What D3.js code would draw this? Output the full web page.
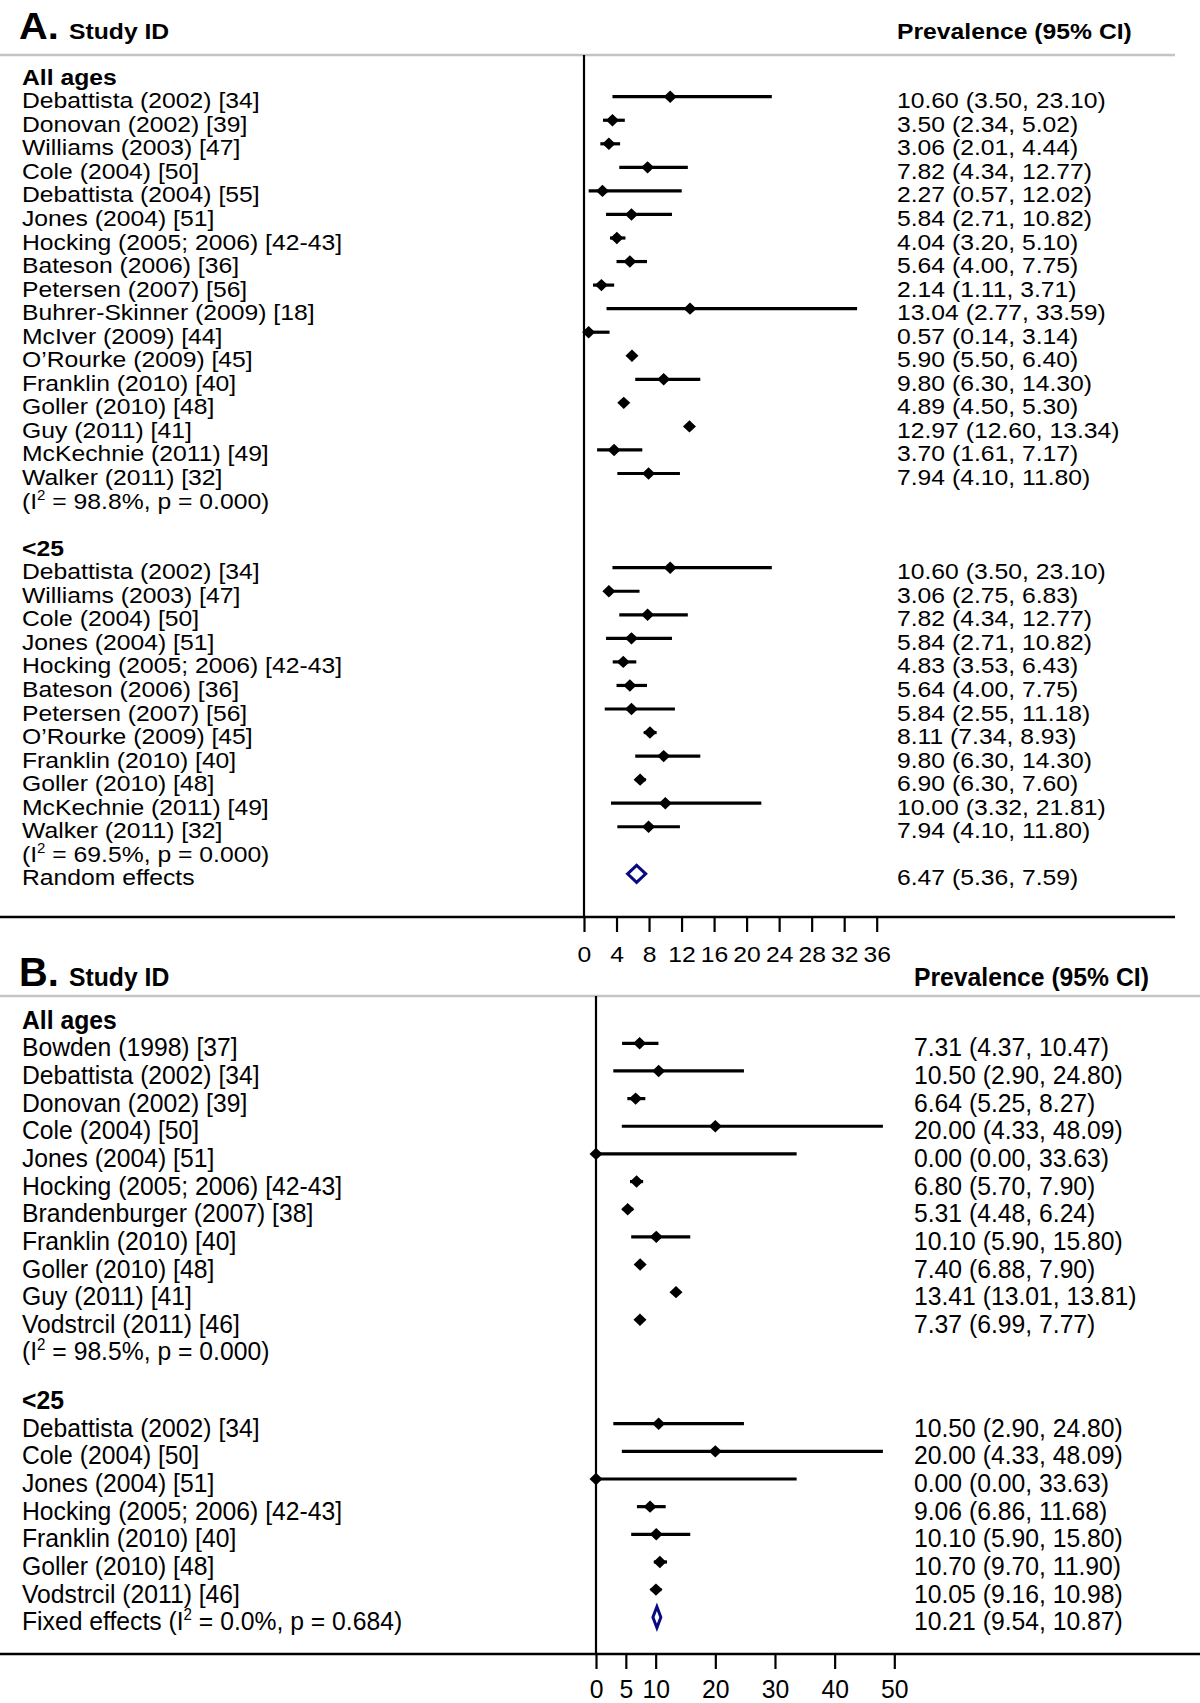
<!DOCTYPE html>
<html>
<head>
<meta charset="utf-8">
<script src="https://cdnjs.cloudflare.com/ajax/libs/d3/7.8.5/d3.min.js"></script>
<style>
  body { margin: 0; background: #fff; }
  svg text { font-family: "Liberation Sans", Arial, Helvetica, sans-serif; fill: #000; }
</style>
</head>
<body>
<svg id="chart"></svg>
<script>
// ---- panel A, all ages ----
var aAllStudies = ["Debattista (2002) [34]", "Donovan (2002) [39]", "Williams (2003) [47]", "Cole (2004) [50]",
  "Debattista (2004) [55]", "Jones (2004) [51]", "Hocking (2005; 2006) [42-43]", "Bateson (2006) [36]",
  "Petersen (2007) [56]", "Buhrer-Skinner (2009) [18]", "McIver (2009) [44]", "O\u2019Rourke (2009) [45]",
  "Franklin (2010) [40]", "Goller (2010) [48]", "Guy (2011) [41]", "McKechnie (2011) [49]", "Walker (2011) [32]"];
var aAllEst = [10.60, 3.50, 3.06, 7.82, 2.27, 5.84, 4.04, 5.64, 2.14, 13.04, 0.57, 5.90, 9.80, 4.89, 12.97, 3.70, 7.94];
var aAllLo  = [3.50, 2.34, 2.01, 4.34, 0.57, 2.71, 3.20, 4.00, 1.11, 2.77, 0.14, 5.50, 6.30, 4.50, 12.60, 1.61, 4.10];
var aAllHi  = [23.10, 5.02, 4.44, 12.77, 12.02, 10.82, 5.10, 7.75, 3.71, 33.59, 3.14, 6.40, 14.30, 5.30, 13.34, 7.17, 11.80];
var aAllHet = "(I\u00b2 = 98.8%, p = 0.000)";

// ---- panel A, under 25 ----
var aYoungStudies = ["Debattista (2002) [34]", "Williams (2003) [47]", "Cole (2004) [50]", "Jones (2004) [51]",
  "Hocking (2005; 2006) [42-43]", "Bateson (2006) [36]", "Petersen (2007) [56]", "O\u2019Rourke (2009) [45]",
  "Franklin (2010) [40]", "Goller (2010) [48]", "McKechnie (2011) [49]", "Walker (2011) [32]"];
var aYoungEst = [10.60, 3.06, 7.82, 5.84, 4.83, 5.64, 5.84, 8.11, 9.80, 6.90, 10.00, 7.94];
var aYoungLo  = [3.50, 2.75, 4.34, 2.71, 3.53, 4.00, 2.55, 7.34, 6.30, 6.30, 3.32, 4.10];
var aYoungHi  = [23.10, 6.83, 12.77, 10.82, 6.43, 7.75, 11.18, 8.93, 14.30, 7.60, 21.81, 11.80];
var aYoungHet = "(I\u00b2 = 69.5%, p = 0.000)";
var aPooled = ["Random effects", 6.47, 5.36, 7.59];
var aTicks = [0, 4, 8, 12, 16, 20, 24, 28, 32, 36];

// ---- panel B, all ages ----
var bAllStudies = ["Bowden (1998) [37]", "Debattista (2002) [34]", "Donovan (2002) [39]", "Cole (2004) [50]",
  "Jones (2004) [51]", "Hocking (2005; 2006) [42-43]", "Brandenburger (2007) [38]", "Franklin (2010) [40]",
  "Goller (2010) [48]", "Guy (2011) [41]", "Vodstrcil (2011) [46]"];
var bAllEst = [7.31, 10.50, 6.64, 20.00, 0.00, 6.80, 5.31, 10.10, 7.40, 13.41, 7.37];
var bAllLo  = [4.37, 2.90, 5.25, 4.33, 0.00, 5.70, 4.48, 5.90, 6.88, 13.01, 6.99];
var bAllHi  = [10.47, 24.80, 8.27, 48.09, 33.63, 7.90, 6.24, 15.80, 7.90, 13.81, 7.77];
var bAllHet = "(I\u00b2 = 98.5%, p = 0.000)";

// ---- panel B, under 25 ----
var bYoungStudies = ["Debattista (2002) [34]", "Cole (2004) [50]", "Jones (2004) [51]", "Hocking (2005; 2006) [42-43]",
  "Franklin (2010) [40]", "Goller (2010) [48]", "Vodstrcil (2011) [46]"];
var bYoungEst = [10.50, 20.00, 0.00, 9.06, 10.10, 10.70, 10.05];
var bYoungLo  = [2.90, 4.33, 0.00, 6.86, 5.90, 9.70, 9.16];
var bYoungHi  = [24.80, 48.09, 33.63, 11.68, 15.80, 11.90, 10.98];
var bPooled = ["Fixed effects (I\u00b2 = 0.0%, p = 0.684)", 10.21, 9.54, 10.87];
var bTicks = [0, 5, 10, 20, 30, 40, 50];

var W = 1200, H = 1703;
var svg = d3.select("#chart").attr("width", W).attr("height", H);

var FS = 23, SX = 1.075;   // text is drawn a bit wide, like the original

// write a text, stretched; a "²" is drawn as a raised small 2
function write(g, x, y, str, sy, opts) {
  opts = opts || {};
  var t = g.append("text")
    .attr("transform", "translate(" + x + "," + y + ") scale(" + SX + "," + sy + ")")
    .attr("font-size", opts.size || FS)
    .attr("font-weight", opts.bold ? "bold" : "normal");
  var parts = str.split("\u00b2");
  t.append("tspan").text(parts[0]);
  if (parts.length > 1) {
    t.append("tspan").attr("font-size", 14).attr("dy", -9).text("2");
    t.append("tspan").attr("dy", 9).text(parts[1]);
  }
  return t;
}

function fmt(v) { return v.toFixed(2); }

function drawPanel(p) {
  var g = svg.append("g");
  var x = d3.scaleLinear().domain(p.domain).range(p.range);
  var row1 = d3.scaleLinear().domain([0, 1]).range([p.start1, p.start1 + p.step]);
  var row2 = d3.scaleLinear().domain([0, 1]).range([p.start2, p.start2 + p.step]);

  // header
  write(g, 19, p.headY, p.letter, p.sy, {bold: true, size: 37});
  write(g, 69, p.headY, "Study ID", p.sy, {bold: true});
  write(g, p.valueX, p.headY, "Prevalence (95% CI)", p.sy, {bold: true});
  g.append("line").attr("x1", 0).attr("x2", p.lineEnd).attr("y1", p.grayY).attr("y2", p.grayY)
    .attr("stroke", "#c4c4c4").attr("stroke-width", 2.5);

  // zero line
  g.append("line").attr("x1", x(0)).attr("x2", x(0)).attr("y1", p.grayY).attr("y2", p.axisY)
    .attr("stroke", "#000").attr("stroke-width", 2.2);

  function studies(names, est, lo, hi, row) {
    names.forEach(function(n, i) {
      var y = row(i), cx = x(est[i]);
      write(g, 22, y + p.off, n, p.sy);
      g.append("line").attr("x1", x(lo[i])).attr("x2", x(hi[i])).attr("y1", y).attr("y2", y)
        .attr("stroke", "#000").attr("stroke-width", 3.2);
      g.append("path")
        .attr("d", d3.line()([[cx - 6.5, y], [cx, y - 6.2], [cx + 6.5, y], [cx, y + 6.2]]) + "Z")
        .attr("fill", "#000");
      write(g, p.valueX, y + p.off, fmt(est[i]) + " (" + fmt(lo[i]) + ", " + fmt(hi[i]) + ")", p.sy);
    });
  }

  write(g, 22, row1(-1) + p.off, "All ages", p.sy, {bold: true});
  studies(p.s1[0], p.s1[1], p.s1[2], p.s1[3], row1);
  write(g, 22, row1(p.s1[0].length) + p.off, p.het1, p.sy);

  write(g, 22, row2(-1) + p.off, "<25", p.sy, {bold: true});
  studies(p.s2[0], p.s2[1], p.s2[2], p.s2[3], row2);
  var k = p.s2[0].length;
  if (p.het2) { write(g, 22, row2(k) + p.off, p.het2, p.sy); k++; }

  // pooled estimate, open diamond
  var py = row2(k), pc = x(p.pooled[1]);
  write(g, 22, py + p.off, p.pooled[0], p.sy);
  g.append("path")
    .attr("d", d3.line()([[x(p.pooled[2]), py], [pc, py - p.dh], [x(p.pooled[3]), py], [pc, py + p.dh]]) + "Z")
    .attr("fill", "#fff").attr("stroke", "#0a0a80").attr("stroke-width", 3);
  write(g, p.valueX, py + p.off, fmt(p.pooled[1]) + " (" + fmt(p.pooled[2]) + ", " + fmt(p.pooled[3]) + ")", p.sy);

  // x axis
  g.append("line").attr("x1", 0).attr("x2", p.lineEnd).attr("y1", p.axisY).attr("y2", p.axisY)
    .attr("stroke", "#000").attr("stroke-width", 2.5);
  var ax = g.append("g").attr("transform", "translate(0," + p.axisY + ")")
    .call(d3.axisBottom(x).tickValues(p.ticks).tickSize(15).tickFormat(d3.format("d")));
  ax.select(".domain").remove();
  ax.selectAll(".tick line").attr("stroke", "#000").attr("stroke-width", 2.2);
  ax.selectAll(".tick text")
    .attr("y", null).attr("dy", null)
    .attr("fill", "#000")
    .attr("font-size", FS)
    .attr("font-family", "Liberation Sans, Arial, sans-serif")
    .attr("transform", "translate(0," + p.tickY + ") scale(" + SX + "," + p.sy + ")");
}

drawPanel({
  letter: "A.", headY: 39, grayY: 55, axisY: 917, lineEnd: 1175, valueX: 897,
  domain: [0, 36], range: [584, 876.7],
  start1: 96.7, start2: 567.7, step: 23.55, off: 11.5, sy: 1, dh: 8.5, tickY: 45,
  s1: [aAllStudies, aAllEst, aAllLo, aAllHi], het1: aAllHet,
  s2: [aYoungStudies, aYoungEst, aYoungLo, aYoungHi], het2: aYoungHet,
  pooled: aPooled, ticks: aTicks
});

drawPanel({
  letter: "B.", headY: 986, grayY: 996, axisY: 1654, lineEnd: 1200, valueX: 914,
  domain: [0, 50], range: [596, 894.3],
  start1: 1043.3, start2: 1423.7, step: 27.65, off: 13, sy: 1.12, dh: 10.5, tickY: 44,
  s1: [bAllStudies, bAllEst, bAllLo, bAllHi], het1: bAllHet,
  s2: [bYoungStudies, bYoungEst, bYoungLo, bYoungHi], het2: null,
  pooled: bPooled, ticks: bTicks
});
</script>
</body>
</html>
